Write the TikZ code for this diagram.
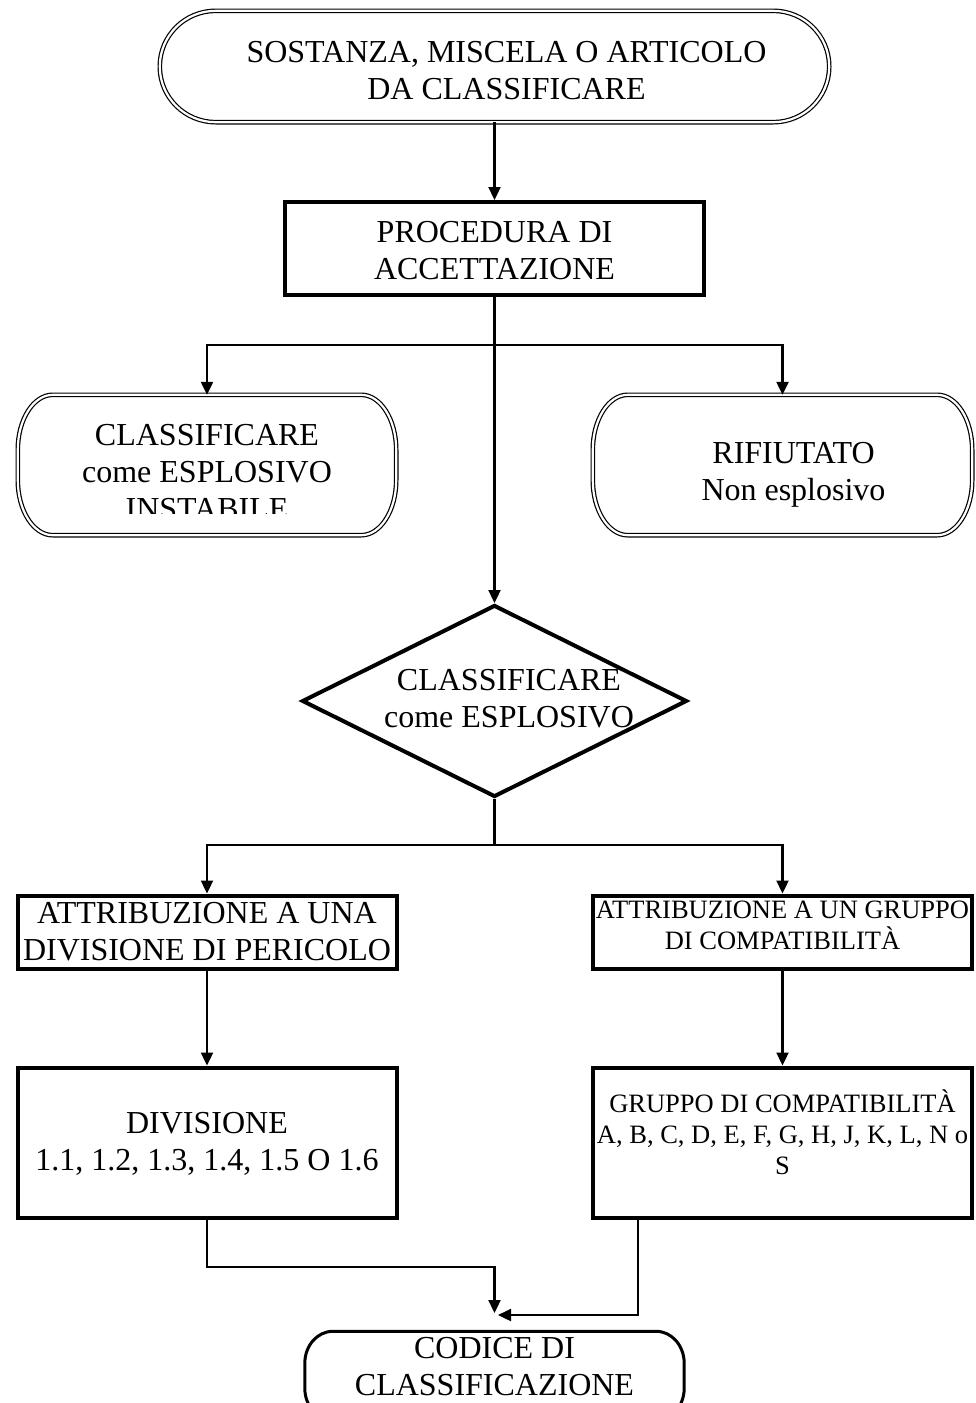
\documentclass[tikz,border=0pt]{standalone}
\usepackage{fontspec}
\setmainfont{Liberation Serif}
\usetikzlibrary{arrows.meta,calc,shapes.geometric}
\newcommand{\hstrutx}[1]{\rule{0pt}{#1pt}}
\newcommand{\dstrutx}[1]{\rule[-#1pt]{0pt}{#1pt}}
\newcommand{\termoutline}[4]{%
  \draw[#4] ($(#1.north west)+(#2,0)$) -- ($(#1.north east)+(-#2,0)$)
    arc[start angle=90,end angle=0,x radius=#2pt,y radius=#3pt]
    -- ($(#1.south east)+(0,#3)$)
    arc[start angle=0,end angle=-90,x radius=#2pt,y radius=#3pt]
    -- ($(#1.south west)+(#2,0)$)
    arc[start angle=270,end angle=180,x radius=#2pt,y radius=#3pt]
    -- ($(#1.north west)+(0,-#3)$)
    arc[start angle=180,end angle=90,x radius=#2pt,y radius=#3pt]
    -- cycle;}
\begin{document}
\begin{tikzpicture}[x=1pt,y=1pt,
  big/.style={font=\fontsize{32}{37}\selectfont, align=center},
  small/.style={font=\fontsize{26.5}{31}\selectfont, align=center},
  box/.style={draw, line width=4pt, rectangle, inner sep=0pt, minimum width=379pt},
  term/.style={rectangle, inner sep=0pt},
  dbl/.style={draw=black, double=white, line width=1.2pt, double distance=2.2pt},
  conn/.style={line width=2.3pt},
  arr/.style={conn, -{Triangle[length=13pt,width=12pt]}},
]
\clip (0,0) rectangle (976,-1403);
\fill[white] (0,0) rectangle (976,-1403);

% top terminal
\node[term, big, minimum width=669pt, minimum height=111pt] (top) at (494.5,-66.5)
  {\hspace*{24pt}\hstrutx{38}SOSTANZA, MISCELA O ARTICOLO\\\hspace*{24pt}DA CLASSIFICARE\dstrutx{9}};
\termoutline{top}{56}{55.5}{dbl}

% procedure
\node[box, big, minimum width=419pt, minimum height=93pt] (proc) at (494.5,-248.5)
  {\hstrutx{30}PROCEDURA DI\\ACCETTAZIONE\dstrutx{5}};

% left terminal (text clipped)
\begin{scope}
  \clip (0,-380) rectangle (420,-513);
  \node[term, big, minimum width=378pt, minimum height=140pt] (lt) at (207,-465)
    {\hstrutx{40}CLASSIFICARE\\come ESPLOSIVO\\INSTABILE\dstrutx{6}};
\end{scope}
\termoutline{lt}{35}{55}{dbl}

% right terminal
\node[term, big, minimum width=379pt, minimum height=140pt] (rt) at (782.5,-465)
  {\hspace*{22pt}\hstrutx{40}RIFIUTATO\\\hspace*{22pt}Non esplosivo\dstrutx{7}};
\termoutline{rt}{35}{55}{dbl}

% diamond
\node[diamond, draw, line width=4pt, minimum width=385pt, minimum height=192pt, inner sep=0pt] (dia) at (494.5,-701) {};
\node[big, inner sep=0pt] (diatext) at (509,-698.5)
  {\hstrutx{30}CLASSIFICARE\\come ESPLOSIVO\dstrutx{9}};

% assignment boxes
\node[box, big, minimum height=73pt] (la) at (207,-932)
  {\hstrutx{24}ATTRIBUZIONE A UNA\\DIVISIONE DI PERICOLO\dstrutx{5}};
\node[box, small, minimum height=73pt] (ra) at (782.5,-932)
  {\hstrutx{20}ATTRIBUZIONE A UN GRUPPO\\DI COMPATIBILITÀ\dstrutx{16}};

% result boxes
\node[box, big, minimum height=150pt] (ld) at (207,-1142.5)
  {\hstrutx{26}DIVISIONE\\1.1, 1.2, 1.3, 1.4, 1.5 O 1.6\dstrutx{8}};
\node[box, small, minimum height=150pt] (rd) at (782.5,-1142.5)
  {\hstrutx{20}GRUPPO DI COMPATIBILITÀ\\A, B, C, D, E, F, G, H, J, K, L, N o\\S\dstrutx{21}};

% bottom terminal
\node[term, big, minimum width=379pt, minimum height=88.5pt] (bt) at (494.5,-1375.75)
  {\hstrutx{24}CODICE DI\\CLASSIFICAZIONE\dstrutx{22.5}};
\termoutline{bt}{28}{32}{draw, line width=3pt}

% coordinates
\coordinate (b1) at (494.5,-345);
\coordinate (b2) at (494.5,-845);
\coordinate (jl) at (494.5,-1267);
\coordinate (tipL) at (494.5,-1313);
\coordinate (tipR) at (498,-1315);
\coordinate (rdout) at ($(rd.south west)+(47,0)$);

% connectors
\draw[arr] (top.south) -- (proc.north);
\draw[arr] (proc.south) -- (dia.north);
\draw[arr] (b1) -| (lt.north);
\draw[arr] (b1) -| (rt.north);
\draw[conn] (dia.south) -- (b2);
\draw[arr] (b2) -| (la.north);
\draw[arr] (b2) -| (ra.north);
\draw[arr] (la.south) -- (ld.north);
\draw[arr] (ra.south) -- (rd.north);
\draw[arr] (ld.south) |- (jl) -- (tipL);
\draw[arr] (rdout) |- (tipR);
\end{tikzpicture}
\end{document}
